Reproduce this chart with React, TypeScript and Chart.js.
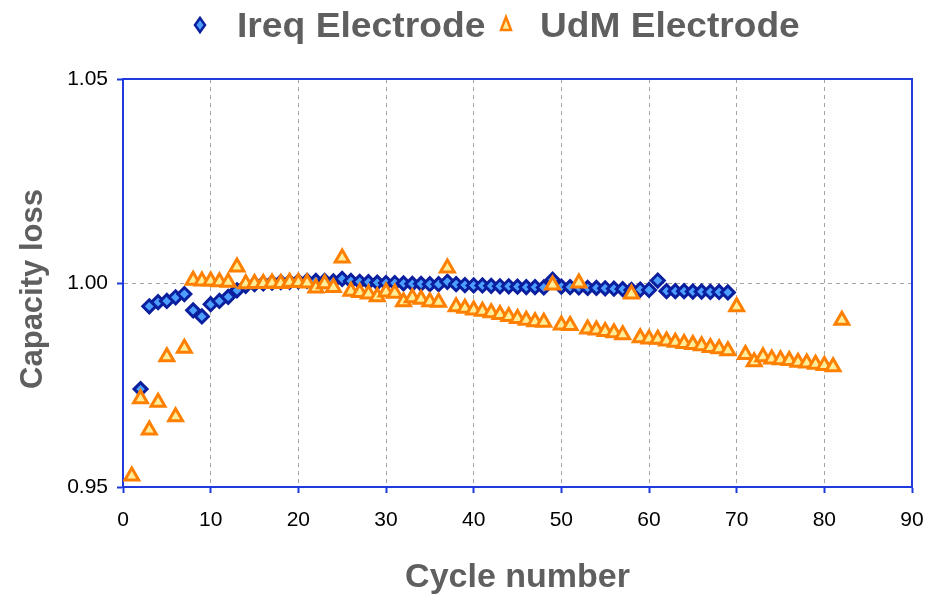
import React, { useEffect, useRef } from "react";
import { Chart, registerables } from "chart.js";

Chart.register(...registerables);

const ireqCycles = [2, 3, 4, 5, 6, 7, 8, 9, 10, 11, 12, 13, 14, 15, 16, 17, 18, 19, 20, 21, 22, 23, 24, 25, 26, 27, 28, 29, 30, 31, 32, 33, 34, 35, 36, 37, 38, 39, 40, 41, 42, 43, 44, 45, 46, 47, 48, 49, 50, 51, 52, 53, 54, 55, 56, 57, 58, 59, 60, 61, 62, 63, 64, 65, 66, 67, 68, 69];
const ireqValues = [0.974, 0.9943, 0.9953, 0.9956, 0.9965, 0.9973, 0.9933, 0.9918, 0.9948, 0.9956, 0.9966, 0.9982, 0.9993, 0.9997, 0.9999, 1.0001, 1.0002, 1.0003, 1.0004, 1.0005, 1.0005, 1.0005, 1.0004, 1.001, 1.0005, 1.0003, 1.0002, 1.0001, 1.0, 1.0, 0.9999, 0.9998, 0.9998, 0.9997, 0.9997, 1.0003, 0.9997, 0.9995, 0.9994, 0.9994, 0.9993, 0.9992, 0.9992, 0.9991, 0.999, 0.999, 0.9989, 1.0008, 0.9991, 0.999, 0.9989, 0.9988, 0.9988, 0.9987, 0.9986, 0.9985, 0.9983, 0.9984, 0.9983, 1.0006, 0.998, 0.998, 0.998, 0.9979, 0.9979, 0.9978, 0.9978, 0.9977];

const udmCycles = [1, 2, 3, 4, 5, 6, 7, 8, 9, 10, 11, 12, 13, 14, 15, 16, 17, 18, 19, 20, 21, 22, 23, 24, 25, 26, 27, 28, 29, 30, 31, 32, 33, 34, 35, 36, 37, 38, 39, 40, 41, 42, 43, 44, 45, 46, 47, 48, 49, 50, 51, 52, 53, 54, 55, 56, 57, 58, 59, 60, 61, 62, 63, 64, 65, 66, 67, 68, 69, 70, 71, 72, 73, 74, 75, 76, 77, 78, 79, 80, 81, 82];
const udmValues = [0.9527, 0.9716, 0.964, 0.9708, 0.9819, 0.9672, 0.984, 1.0007, 1.0005, 1.0005, 1.0003, 1.0002, 1.0039, 0.9998, 0.9999, 0.9999, 1.0, 0.9999, 1.0002, 1.0001, 1.0, 0.9988, 0.9998, 0.9989, 1.0061, 0.998, 0.9977, 0.9973, 0.9966, 0.9978, 0.9975, 0.9954, 0.9964, 0.996, 0.9954, 0.9953, 1.0037, 0.9942, 0.9938, 0.9934, 0.9931, 0.9927, 0.9923, 0.9918, 0.9913, 0.9909, 0.9905, 0.9904, 0.9995, 0.9897, 0.9896, 1.0, 0.9887, 0.9885, 0.9881, 0.9878, 0.9873, 0.9973, 0.9866, 0.9863, 0.9862, 0.9858, 0.9855, 0.9852, 0.9849, 0.9846, 0.9842, 0.9839, 0.9834, 0.9942, 0.9825, 0.9807, 0.9819, 0.9814, 0.9812, 0.981, 0.9806, 0.9804, 0.9801, 0.9798, 0.9795, 0.9909];

const seriesNames = ["Ireq Electrode", "UdM Electrode"];
const xTitle = "Cycle number";
const yTitle = "Capacity loss";
const xMin = 0, xMax = 90, xStep = 10;
const yMin = 0.95, yMax = 1.05, yStep = 0.05;

const FONT = "'Liberation Sans', Arial, Helvetica, sans-serif";
const FRAME = "#1f3be0";
const DIAMOND_BORDER = "#0b1f9e";
const DIAMOND_FILL = "#4c9fff";
const TRI_BORDER = "#ff7f00";
const TRI_FILL = "#ffee99";
const TITLE_COLOR = "#5f5f5f";
const GRID = "#a6a6a6";

const framePlugin = {
  id: "frame",
  beforeDatasetsDraw(chart: any) {
    const { ctx, chartArea } = chart;
    ctx.save();
    ctx.strokeStyle = FRAME;
    ctx.lineWidth = 2;
    ctx.strokeRect(chartArea.left, chartArea.top, chartArea.right - chartArea.left, chartArea.bottom - chartArea.top);
    ctx.restore();
  },
};

function stretchedText(ctx: any, text: string, x: number, y: number, sx: number) {
  ctx.save();
  ctx.translate(x, y);
  ctx.scale(sx, 1);
  ctx.fillText(text, 0, 0);
  ctx.restore();
}

const legendPlugin = {
  id: "customLegend",
  afterDraw(chart: any) {
    const ctx = chart.ctx;
    ctx.save();
    // diamond marker
    ctx.beginPath();
    ctx.moveTo(200, 18);
    ctx.lineTo(205, 25);
    ctx.lineTo(200, 32);
    ctx.lineTo(195, 25);
    ctx.closePath();
    ctx.fillStyle = DIAMOND_FILL;
    ctx.fill();
    ctx.strokeStyle = DIAMOND_BORDER;
    ctx.lineWidth = 2.5;
    ctx.stroke();
    // triangle marker
    ctx.beginPath();
    ctx.moveTo(506, 17);
    ctx.lineTo(511, 30);
    ctx.lineTo(501, 30);
    ctx.closePath();
    ctx.fillStyle = TRI_FILL;
    ctx.fill();
    ctx.strokeStyle = TRI_BORDER;
    ctx.lineWidth = 2.5;
    ctx.stroke();
    ctx.fillStyle = TITLE_COLOR;
    ctx.font = `bold 35px ${FONT}`;
    ctx.textBaseline = "alphabetic";
    ctx.textAlign = "left";
    stretchedText(ctx, seriesNames[0], 237, 37, 1.064);
    stretchedText(ctx, seriesNames[1], 540, 37, 1.06);
    // y axis title
    ctx.save();
    ctx.translate(33, 289);
    ctx.rotate(-Math.PI / 2);
    ctx.font = `bold 31px ${FONT}`;
    ctx.textAlign = "center";
    ctx.textBaseline = "middle";
    ctx.fillText(yTitle, 0, 0);
    ctx.restore();
    ctx.restore();
  },
};

export default function App() {
  const ref = useRef<HTMLCanvasElement | null>(null);
  useEffect(() => {
    if (!ref.current) return;
    const chart = new Chart(ref.current, {
      type: "scatter",
      data: {
        datasets: [
          {
            label: seriesNames[0],
            data: ireqCycles.map((c, i) => ({ x: c, y: ireqValues[i] })),
            pointStyle: "rectRot",
            pointRadius: 6.5,
            pointBorderWidth: 3,
            borderColor: DIAMOND_BORDER,
            backgroundColor: DIAMOND_FILL,
            order: 1,
          },
          {
            label: seriesNames[1],
            data: udmCycles.map((c, i) => ({ x: c, y: udmValues[i] })),
            pointStyle: "triangle",
            pointRadius: 8,
            pointBorderWidth: 3,
            borderColor: TRI_BORDER,
            backgroundColor: TRI_FILL,
            order: 0,
          },
        ],
      },
      options: {
        animation: false,
        responsive: false,
        maintainAspectRatio: false,
        layout: { padding: { top: 79, right: 24, left: 0, bottom: 0 } },
        plugins: {
          legend: { display: false },
          tooltip: { enabled: false },
        },
        scales: {
          x: {
            type: "linear",
            min: xMin,
            max: xMax,
            afterFit(scale: any) {
              scale.height = 108;
              scale.paddingLeft = 0;
              scale.paddingRight = 0;
            },
            ticks: {
              stepSize: xStep,
              color: "#000",
              font: { family: FONT, size: 21 },
              padding: 15,
              maxRotation: 0,
            },
            grid: {
              color: GRID,
              lineWidth: 1,
              tickColor: FRAME,
              tickLength: 6,
              tickWidth: 2,
              tickBorderDash: [],
            },
            border: { display: true, color: FRAME, width: 2, dash: [4, 4] },
            title: {
              display: true,
              text: xTitle,
              color: TITLE_COLOR,
              font: { family: FONT, size: 34, weight: "bold", lineHeight: 1 },
              padding: { top: 0, bottom: 0 },
            },
          },
          y: {
            type: "linear",
            min: yMin,
            max: yMax,
            afterFit(scale: any) {
              scale.width = 123;
            },
            ticks: {
              stepSize: yStep,
              color: "#000",
              font: { family: FONT, size: 21 },
              padding: 9,
              callback: (v: any) => Number(v).toFixed(2),
            },
            grid: {
              color: GRID,
              lineWidth: 1,
              tickColor: FRAME,
              tickLength: 6,
              tickWidth: 2,
              tickBorderDash: [],
            },
            border: { display: true, color: FRAME, width: 2, dash: [4, 4] },
            title: { display: false, text: yTitle },
          },
        },
      },
      plugins: [framePlugin, legendPlugin],
    });
    return () => chart.destroy();
  }, []);
  return (
    <div style={{ position: "fixed", left: 0, top: 0, width: 936, height: 595, background: "#fff" }}>
      <canvas ref={ref} width={936} height={595} style={{ width: 936, height: 595, display: "block" }} />
    </div>
  );
}
